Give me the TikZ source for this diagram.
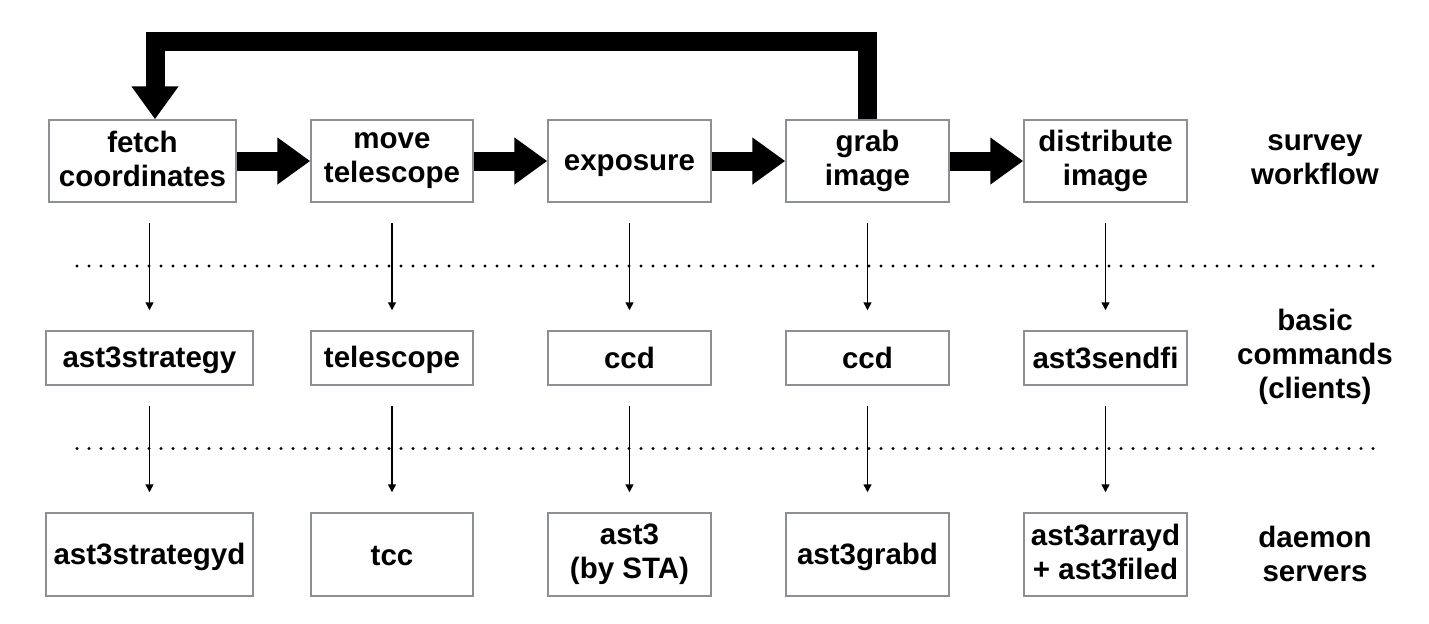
\documentclass[tikz,border=0pt]{standalone}
\usepackage{fontspec}
\setmainfont{Liberation Sans}
\usetikzlibrary{arrows.meta}
\definecolor{boxgray}{RGB}{140,143,148}
\newcommand\boxfont{\bfseries\fontsize{14.75}{17}\selectfont
  \setbox\strutbox\hbox{\vrule height13pt depth2.5pt width0pt}}

\begin{document}
\begin{tikzpicture}[x=0.5pt,y=-0.5pt,
  box/.style={draw=boxgray,line width=0.75pt,fill=white,align=center,inner sep=0pt,
    font=\boxfont,execute at begin node=\strut,execute at end node=\strut},
  layer/.style={align=center,inner sep=0pt,font=\boxfont,
    execute at begin node=\strut,execute at end node=\strut},
  flow/.style={line width=9.5pt,-{Triangle[length=16.5pt,width=22.5pt]}},
  call/.style={line width=0.75pt,-{Triangle[length=4pt,width=4pt]},shorten <=10pt,shorten >=10pt},
  sep/.style={line width=1.7pt,line cap=round,dash pattern=on 0pt off 6pt}]
\useasboundingbox (0,0) rectangle (1429,623);
% survey workflow
\draw (142.5,161) node[box,minimum width=93.5pt,minimum height=41pt] (fetch) {fetch\\coordinates};
\draw (392,161) node[box,minimum width=81pt,minimum height=41pt] (move) {move\\telescope};
\draw (629.5,161) node[box,minimum width=81.5pt,minimum height=41pt] (expo) {exposure};
\draw (867.5,161) node[box,minimum width=81.5pt,minimum height=41pt] (grab) {grab\\image};
\draw (1105.5,161) node[box,minimum width=81.5pt,minimum height=41pt] (dist) {distribute\\image};
% basic commands
\draw (149.5,358) node[box,minimum width=103.5pt,minimum height=27pt] (strat) {ast3strategy};
\draw (392,358) node[box,minimum width=81pt,minimum height=27pt] (tele) {telescope};
\draw (629.5,358) node[box,minimum width=81.5pt,minimum height=27pt] (ccda) {ccd};
\draw (867.5,358) node[box,minimum width=81.5pt,minimum height=27pt] (ccdb) {ccd};
\draw (1105.5,358) node[box,minimum width=81.5pt,minimum height=27pt] (send) {ast3sendfi};
% daemon servers
\draw (149.5,554.5) node[box,minimum width=103.5pt,minimum height=41.5pt] (stratd) {ast3strategyd};
\draw (392,554.5) node[box,minimum width=81pt,minimum height=41.5pt] (tcc) {tcc};
\draw (629.5,554.5) node[box,minimum width=81.5pt,minimum height=41.5pt] (sta) {ast3\\(by STA)};
\draw (867.5,554.5) node[box,minimum width=81.5pt,minimum height=41.5pt] (grabd) {ast3grabd};
\draw (1105.5,554.5) node[box,minimum width=81.5pt,minimum height=41.5pt] (arrayd) {ast3arrayd\\+ ast3filed};
% layer names
\draw (1315,162) node[layer] (lsurvey) {survey\\workflow};
\draw (1315,357) node[layer] (lbasic) {basic\\commands\\(clients)};
\draw (1315,556) node[layer] (ldaemon) {daemon\\servers};
% separators
\draw[sep] (77,266) -- (1374,266);
\draw[sep] (77,448.5) -- (1374,448.5);
% big arrows
\coordinate (loop) at (867.5,41.5);
\draw[flow] (fetch) -- (move);
\draw[flow] (move) -- (expo);
\draw[flow] (expo) -- (grab);
\draw[flow] (grab) -- (dist);
\draw[flow] (grab.north) -- (loop) -| ([xshift=6.25pt]fetch.north);
% calls
\draw[call] (fetch.south -| strat.north) -- (strat.north);
\draw[call] (move.south -| tele.north) -- (tele.north);
\draw[call] (expo.south -| ccda.north) -- (ccda.north);
\draw[call] (grab.south -| ccdb.north) -- (ccdb.north);
\draw[call] (dist.south -| send.north) -- (send.north);
\draw[call] (strat.south) -- (stratd.north);
\draw[call] (tele.south) -- (tcc.north);
\draw[call] (ccda.south) -- (sta.north);
\draw[call] (ccdb.south) -- (grabd.north);
\draw[call] (send.south) -- (arrayd.north);
\end{tikzpicture}
\end{document}
